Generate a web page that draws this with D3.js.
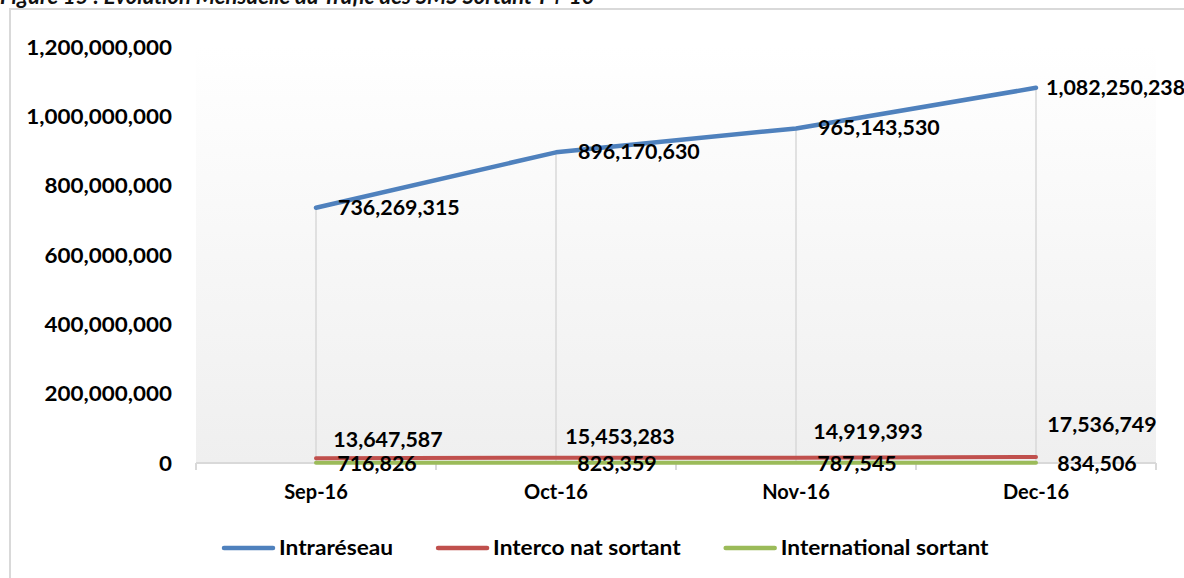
<!DOCTYPE html>
<html>
<head>
<meta charset="utf-8">
<script src="https://cdn.jsdelivr.net/npm/d3@7"></script>
<style>
  body { margin: 0; background: #fff; }
  text { font-family: Lato, "Open Sans", sans-serif; font-weight: bold; fill: #000; }
</style>
</head>
<body>
<div id="chart"></div>
<script>
// data
const months = ['Sep-16', 'Oct-16', 'Nov-16', 'Dec-16'];
const intraReseau = [736269315, 896170630, 965143530, 1082250238];
const intercoNat = [13647587, 15453283, 14919393, 17536749];
const international = [716826, 823359, 787545, 834506];
const yTicks = [0, 200000000, 400000000, 600000000, 800000000, 1000000000, 1200000000];
const seriesNames = ['Intraréseau', 'Interco nat sortant', 'International sortant'];

// label offsets (px from point), styling only
const intraLabelDx = [22, 22, 22, 10];
const intercoLabelDx = [72, 64, 72, 66];
const intercoLabelDy = [-18, -21, -26, -32];
const interLabelDx = [61, 61, 61, 61];

const width = 1184, height = 578;
const margin = { left: 196, right: 28, top: 47, bottom: 115 };
const colors = ['#4f81bd', '#c0504d', '#9bbb59'];
const fmt = d3.format(',');

// widen glyphs a bit, Lato is narrower than the original font
function stretch(sel, k) {
    sel.each(function () {
        const w = this.getComputedTextLength();
        d3.select(this).attr('textLength', w * k).attr('lengthAdjust', 'spacingAndGlyphs');
    });
}

const svg = d3.select('#chart')
    .append('svg')
    .attr('width', width)
    .attr('height', height);

//gradient for plot area
const grad = svg.append('defs').append('linearGradient')
    .attr('id', 'plotGrad').attr('x1', 0).attr('y1', 0).attr('x2', 0).attr('y2', 1);
grad.append('stop').attr('offset', '0%').attr('stop-color', '#ffffff');
grad.append('stop').attr('offset', '100%').attr('stop-color', '#efefef');

//chart border
svg.append('rect')
    .attr('x', 10).attr('y', 9)
    .attr('width', 1300).attr('height', 700)
    .attr('fill', 'none')
    .attr('stroke', '#d9d9d9')
    .attr('stroke-width', 2);

//title (cut by the top edge, as in the source)
svg.append('text')
    .attr('x', 0).attr('y', 4)
    .style('font-style', 'italic')
    .style('font-size', '22px')
    .style('fill', '#111')
    .text('Figure 15 : Evolution Mensuelle du Trafic des SMS Sortant T4-16');

const x = d3.scaleBand().domain(months)
    .range([margin.left, width - margin.right])
    .paddingInner(0).paddingOuter(0);
const cx = d => x(d) + x.bandwidth() / 2;

const y = d3.scaleLinear().domain([0, 1200000000])
    .range([height - margin.bottom, margin.top]);

svg.append('rect')
    .attr('x', margin.left).attr('y', margin.top)
    .attr('width', x.range()[1] - margin.left)
    .attr('height', y(0) - margin.top)
    .attr('fill', 'url(#plotGrad)');

//y axis
const yAxis = svg.append('g')
    .attr('transform', `translate(${margin.left - 24},0)`)
    .call(d3.axisLeft(y).tickValues(yTicks).tickSize(0).tickFormat(fmt));
yAxis.select('.domain').remove();
yAxis.selectAll('text')
    .attr('x', 0).attr('dy', '0.35em')
    .style('font-size', '20px')
    .call(stretch, 1.12);

//x axis
svg.append('line')
    .attr('x1', margin.left).attr('x2', x.range()[1])
    .attr('y1', y(0)).attr('y2', y(0))
    .attr('stroke', '#d9d9d9').attr('stroke-width', 2);

const bounds = months.map(m => x(m)).concat([x.range()[1]]);
svg.append('g').selectAll('line')
    .data(bounds)
    .join('line')
    .attr('x1', d => d).attr('x2', d => d)
    .attr('y1', y(0)).attr('y2', y(0) + 7)
    .attr('stroke', '#d9d9d9').attr('stroke-width', 2);

svg.append('g').selectAll('text')
    .data(months)
    .join('text')
    .attr('x', d => cx(d))
    .attr('y', y(0) + 29)
    .attr('dy', '0.35em')
    .attr('text-anchor', 'middle')
    .style('font-size', '20px')
    .text(d => d);

//drop lines
svg.append('g').selectAll('line')
    .data(months)
    .join('line')
    .attr('x1', d => cx(d)).attr('x2', d => cx(d))
    .attr('y1', (d, i) => y(intraReseau[i]))
    .attr('y2', y(0))
    .attr('stroke', '#d9d9d9').attr('stroke-width', 1.5);

//lines
const line = d3.line()
    .x((d, i) => cx(months[i]))
    .y(d => y(d));

const allSeries = [international, intercoNat, intraReseau];
const allColors = [colors[2], colors[1], colors[0]];
svg.append('g').selectAll('path')
    .data(allSeries)
    .join('path')
    .attr('fill', 'none')
    .attr('stroke', (d, i) => allColors[i])
    .attr('stroke-width', (d, i) => i == 2 ? 4.5 : 4)
    .attr('stroke-linecap', 'round')
    .attr('stroke-linejoin', 'round')
    .attr('d', line);

//data labels
svg.append('g').selectAll('text')
    .data(intraReseau)
    .join('text')
    .attr('x', (d, i) => cx(months[i]) + intraLabelDx[i])
    .attr('y', d => y(d))
    .attr('dy', '0.35em')
    .style('font-size', '20px')
    .text(d => fmt(d))
    .call(stretch, 1.07);

svg.append('g').selectAll('text')
    .data(intercoNat)
    .join('text')
    .attr('x', (d, i) => cx(months[i]) + intercoLabelDx[i])
    .attr('y', (d, i) => y(d) + intercoLabelDy[i])
    .attr('dy', '0.35em')
    .attr('text-anchor', 'middle')
    .style('font-size', '20px')
    .text(d => fmt(d))
    .call(stretch, 1.07);

svg.append('g').selectAll('text')
    .data(international)
    .join('text')
    .attr('x', (d, i) => cx(months[i]) + interLabelDx[i])
    .attr('y', d => y(d) + 1)
    .attr('dy', '0.35em')
    .attr('text-anchor', 'middle')
    .style('font-size', '20px')
    .text(d => fmt(d))
    .call(stretch, 1.07);

//legend
const legend = svg.append('g').attr('transform', 'translate(222,548)');
let lx = 0;
seriesNames.forEach((name, i) => {
    const g = legend.append('g').attr('transform', `translate(${lx},0)`);
    g.append('line')
        .attr('x1', 2).attr('x2', 51)
        .attr('y1', 0).attr('y2', 0)
        .attr('stroke', colors[i])
        .attr('stroke-width', 4.5)
        .attr('stroke-linecap', 'round');
    const t = g.append('text')
        .attr('x', 57).attr('y', 0)
        .attr('dy', '0.35em')
        .style('font-size', '21px')
        .text(name);
    const w = t.node().getComputedTextLength() * 1.08;
    t.attr('textLength', w).attr('lengthAdjust', 'spacingAndGlyphs');
    lx += 57 + w + 43;
});
</script>
</body>
</html>
